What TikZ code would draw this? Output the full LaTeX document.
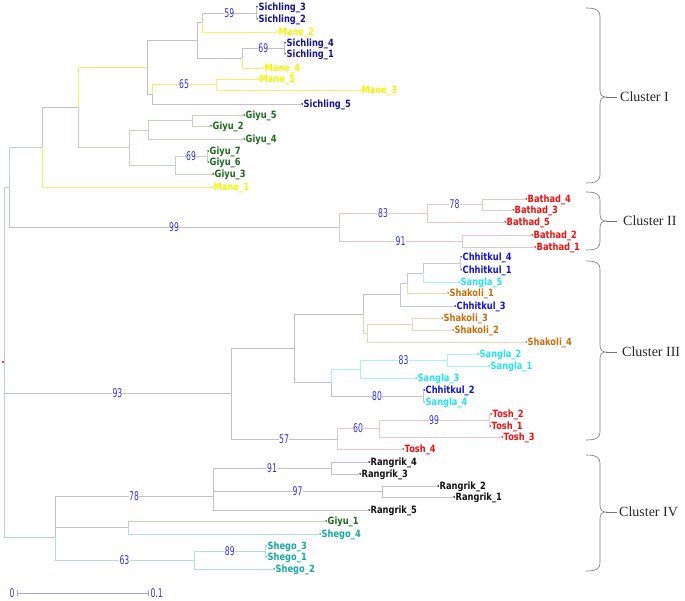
\documentclass[tikz,border=0pt]{standalone}
\usepackage{fontspec}
\newfontfamily\leafft{DejaVu Sans}[FakeStretch=0.83]
\newfontfamily\bootft{DejaVu Sans}[FakeStretch=0.64]
\newfontfamily\clusft{Liberation Serif}
\definecolor{csich}{HTML}{16168C}
\definecolor{cmane}{HTML}{F4F400}
\definecolor{cgiyu}{HTML}{1B6B1B}
\definecolor{cbath}{HTML}{F01010}
\definecolor{cchh}{HTML}{1212E0}
\definecolor{csang}{HTML}{22E4F0}
\definecolor{cshak}{HTML}{C46E0C}
\definecolor{ctosh}{HTML}{EE1111}
\definecolor{crang}{HTML}{111111}
\definecolor{csheg}{HTML}{14A8A0}
\definecolor{bootblue}{HTML}{3030E8}
\definecolor{lgray}{HTML}{C2C2C2}
\definecolor{lyel}{HTML}{F2F266}
\definecolor{lgrn}{HTML}{C0D4C0}
\definecolor{lpink}{HTML}{E8C6CA}
\definecolor{llav}{HTML}{C4C4E4}
\definecolor{lcyan}{HTML}{A8F2F8}
\definecolor{lbeige}{HTML}{E4D6BA}
\definecolor{lteal}{HTML}{B0E0DC}
\definecolor{lroot}{HTML}{B8D4CC}
\definecolor{lsbar}{HTML}{A4A4E0}
\tikzset{
  leaflab/.style={font=\leafft\bfseries\fontsize{10}{12}\selectfont, inner sep=0pt, anchor=base west},
  boot/.style={font=\bootft\fontsize{12}{13}\selectfont, text=bootblue, fill=white, inner sep=0.3pt},
  br/.style={line width=0.8pt},
  clus/.style={font=\clusft\fontsize{14}{15}\selectfont, text=black!85, anchor=west, inner sep=0pt},
  bracestyle/.style={draw=black!55, line width=0.6pt},
}
\newcommand{\tleaf}[5]{%
  \coordinate (#1) at (#2,#3);
  \fill[#4] (#1) circle (1pt);
  \node[leaflab, text=#4] (#1t) at ([shift={(1.5,3.6)}]#1) {#5};
}
\newcommand{\cbrace}[3]{%
  \draw[bracestyle] (586,#1) .. controls (596,#1) and (600,#1+2) .. (600,#1+9) -- (600,#2-7) .. controls (600,#2-2) and (602,#2) .. (606,#2) .. controls (602,#2) and (600,#2+2) .. (600,#2+7) -- (600,#3-9) .. controls (600,#3-2) and (596,#3) .. (586,#3);
  \draw[bracestyle] (606,#2) -- (617,#2);
}
\begin{document}
\begin{tikzpicture}[x=1pt,y=-1pt]
\useasboundingbox (0,0) rectangle (685,601);
% ---------------- leaves
\tleaf{s3}{257}{7}{csich}{Sichling\_3}
\tleaf{s2}{257}{19}{csich}{Sichling\_2}
\tleaf{m2}{277}{32}{cmane}{Mane\_2}
\tleaf{s4}{285}{43}{csich}{Sichling\_4}
\tleaf{s1}{285}{54}{csich}{Sichling\_1}
\tleaf{m4}{263}{68}{cmane}{Mane\_4}
\tleaf{m5}{258}{79}{cmane}{Mane\_5}
\tleaf{m3}{360}{90}{cmane}{Mane\_3}
\tleaf{s5}{302}{104}{csich}{Sichling\_5}
\tleaf{g5}{244}{115}{cgiyu}{Giyu\_5}
\tleaf{g2}{211}{126}{cgiyu}{Giyu\_2}
\tleaf{g4}{244}{139}{cgiyu}{Giyu\_4}
\tleaf{g7}{208}{151}{cgiyu}{Giyu\_7}
\tleaf{g6}{208}{162}{cgiyu}{Giyu\_6}
\tleaf{g3}{213}{174}{cgiyu}{Giyu\_3}
\tleaf{m1}{212}{187}{cmane}{Mane\_1}
\tleaf{b4}{526}{199}{cbath}{Bathad\_4}
\tleaf{b3}{513}{210}{cbath}{Bathad\_3}
\tleaf{b5}{505}{222}{cbath}{Bathad\_5}
\tleaf{b2}{532}{235}{cbath}{Bathad\_2}
\tleaf{b1}{535}{247}{cbath}{Bathad\_1}
\tleaf{c4}{461}{257}{cchh}{Chhitkul\_4}
\tleaf{c1}{461}{270}{cchh}{Chhitkul\_1}
\tleaf{sa5}{459}{282}{csang}{Sangla\_5}
\tleaf{sk1}{448}{293}{cshak}{Shakoli\_1}
\tleaf{c3}{455}{306}{cchh}{Chhitkul\_3}
\tleaf{sk3}{442}{318}{cshak}{Shakoli\_3}
\tleaf{sk2}{453}{330}{cshak}{Shakoli\_2}
\tleaf{sk4}{526}{342}{cshak}{Shakoli\_4}
\tleaf{sa2}{478}{354}{csang}{Sangla\_2}
\tleaf{sa1}{489}{366}{csang}{Sangla\_1}
\tleaf{sa3}{416}{378}{csang}{Sangla\_3}
\tleaf{c2}{424}{390}{cchh}{Chhitkul\_2}
\tleaf{sa4}{424}{402}{csang}{Sangla\_4}
\tleaf{t2}{491}{414}{ctosh}{Tosh\_2}
\tleaf{t1}{490}{426}{ctosh}{Tosh\_1}
\tleaf{t3}{502}{437}{ctosh}{Tosh\_3}
\tleaf{t4}{403}{449}{ctosh}{Tosh\_4}
\tleaf{r4}{369}{462}{crang}{Rangrik\_4}
\tleaf{r3}{360}{474}{crang}{Rangrik\_3}
\tleaf{r2}{438}{486}{crang}{Rangrik\_2}
\tleaf{r1}{454}{497}{crang}{Rangrik\_1}
\tleaf{r5}{369}{510}{crang}{Rangrik\_5}
\tleaf{g1}{326}{521}{cgiyu}{Giyu\_1}
\tleaf{sh4}{320}{534}{csheg}{Shego\_4}
\tleaf{sh3}{266}{546}{csheg}{Shego\_3}
\tleaf{sh1}{266}{557}{csheg}{Shego\_1}
\tleaf{sh2}{274}{569}{csheg}{Shego\_2}
% ---------------- internal nodes
\coordinate (nA) at (256.5,13);
\coordinate (nB) at (202,22.5);
\coordinate (nC) at (284.5,48.5);
\coordinate (nD) at (242,58);
\coordinate (nE) at (197,40);
\coordinate (nF) at (216,84.5);
\coordinate (nG) at (152,94);
\coordinate (nH) at (147,67);
\coordinate (nI) at (192,120.5);
\coordinate (nJ) at (148,130);
\coordinate (nK) at (207,156.5);
\coordinate (nL) at (175,165);
\coordinate (nM) at (129,147.5);
\coordinate (nN) at (78,107);
\coordinate (nO) at (42,147);
\coordinate (nQ) at (482,204.5);
\coordinate (nR) at (427,213);
\coordinate (nS) at (462,241);
\coordinate (nT) at (339,227);
\coordinate (nP) at (9,187);
\coordinate (n1) at (460.5,263.5);
\coordinate (n2) at (423,273);
\coordinate (n3) at (407,283);
\coordinate (n4) at (400,294.5);
\coordinate (n5) at (412,324);
\coordinate (n6) at (367,333);
\coordinate (n7) at (363,314);
\coordinate (n10) at (447,360);
\coordinate (n11) at (360,369);
\coordinate (n12) at (423,396);
\coordinate (n13) at (331,382.5);
\coordinate (n8) at (294,348);
\coordinate (nt21) at (489,420);
\coordinate (nt2) at (379,428.5);
\coordinate (nt3) at (337,439);
\coordinate (nIII) at (231,393.5);
\coordinate (nr43) at (331,468);
\coordinate (nr21) at (382,491.5);
\coordinate (nRR) at (213,496);
\coordinate (nGS) at (128,527.5);
\coordinate (nsh31) at (265.5,551.5);
\coordinate (nSH) at (194,560);
\coordinate (nIV) at (55,537);
\coordinate (root) at (4,362);
% ---------------- branches: cluster I
\draw[br,lgray] (nA) |- (s3);
\draw[br,lgray] (nA) |- (s2);
\draw[br,lgray] (nB) |- (nA) node[boot,pos=0.75] {59};
\draw[br,lyel] (nB) |- (m2);
\draw[br,lgray] (nC) |- (s4);
\draw[br,lgray] (nC) |- (s1);
\draw[br,lgray] (nD) |- (nC) node[boot,pos=0.75] {69};
\draw[br,lyel] (nD) |- (m4);
\draw[br,lgray] (nE) |- (nB);
\draw[br,lgray] (nE) |- (nD);
\draw[br,lyel] (nF) |- (m5);
\draw[br,lyel] (nF) |- (m3);
\draw[br,lyel] (nG) |- (nF) node[boot,pos=0.75] {65};
\draw[br,lgray] (nG) |- (s5);
\draw[br,lgray] (nH) |- (nE);
\draw[br,lgray] (nH) |- (nG);
\draw[br,lgrn] (nI) |- (g5);
\draw[br,lgrn] (nI) |- (g2);
\draw[br,lgrn] (nJ) |- (nI);
\draw[br,lgrn] (nJ) |- (g4);
\draw[br,lgrn] (nK) |- (g7);
\draw[br,lgrn] (nK) |- (g6);
\draw[br,lgrn] (nL) |- (nK) node[boot,pos=0.75] {69};
\draw[br,lgrn] (nL) |- (g3);
\draw[br,lgrn] (nM) |- (nJ);
\draw[br,lgrn] (nM) |- (nL);
\draw[br,lyel] (nN) |- (nH);
\draw[br,lgrn] (nN) |- (nM);
\draw[br,lgray] (nO) |- (nN);
\draw[br,lyel] (nO) |- (m1);
% cluster II
\draw[br,lpink] (nQ) |- (b4);
\draw[br,lpink] (nQ) |- (b3);
\draw[br,lpink] (nR) |- (nQ) node[boot,pos=0.75] {78};
\draw[br,lpink] (nR) |- (b5);
\draw[br,lpink] (nS) |- (b2);
\draw[br,lpink] (nS) |- (b1);
\draw[br,lpink] (nT) |- (nR) node[boot,pos=0.75] {83};
\draw[br,lpink] (nT) |- (nS) node[boot,pos=0.75] {91};
\draw[br,lroot] (nP) |- (nO);
\draw[br,lgray] (nP) |- (nT) node[boot,pos=0.75] {99};
% cluster III
\draw[br,llav] (n1) |- (c4);
\draw[br,llav] (n1) |- (c1);
\draw[br,llav] (n2) |- (n1);
\draw[br,lcyan] (n2) |- (sa5);
\draw[br,llav] (n3) |- (n2);
\draw[br,lbeige] (n3) |- (sk1);
\draw[br,llav] (n4) |- (n3);
\draw[br,llav] (n4) |- (c3);
\draw[br,lbeige] (n5) |- (sk3);
\draw[br,lbeige] (n5) |- (sk2);
\draw[br,lbeige] (n6) |- (n5);
\draw[br,lbeige] (n6) |- (sk4);
\draw[br,lgray] (n7) |- (n4);
\draw[br,lbeige] (n7) |- (n6);
\draw[br,lcyan] (n10) |- (sa2);
\draw[br,lcyan] (n10) |- (sa1);
\draw[br,lcyan] (n11) |- (n10) node[boot,pos=0.75] {83};
\draw[br,lcyan] (n11) |- (sa3);
\draw[br,lgray] (n12) |- (c2);
\draw[br,lgray] (n12) |- (sa4);
\draw[br,lcyan] (n13) |- (n11);
\draw[br,lgray] (n13) |- (n12) node[boot,pos=0.75] {80};
\draw[br,lgray] (n8) |- (n7);
\draw[br,lgray] (n8) |- (n13);
\draw[br,lpink] (nt21) |- (t2);
\draw[br,lpink] (nt21) |- (t1);
\draw[br,lpink] (nt2) |- (nt21) node[boot,pos=0.75] {99};
\draw[br,lpink] (nt2) |- (t3);
\draw[br,lpink] (nt3) |- (nt2) node[boot,pos=0.75] {60};
\draw[br,lpink] (nt3) |- (t4);
\draw[br,lgray] (nIII) |- (n8);
\draw[br,lgray] (nIII) |- (nt3) node[boot,pos=0.75] {57};
% cluster IV
\draw[br,lgray] (nr43) |- (r4);
\draw[br,lgray] (nr43) |- (r3);
\draw[br,lgray] (nr21) |- (r2);
\draw[br,lgray] (nr21) |- (r1);
\draw[br,lgray] (nRR) |- (nr43) node[boot,pos=0.75] {91};
\draw[br,lgray] (nRR) |- (nr21) node[boot,pos=0.75] {97};
\draw[br,lgray] (nRR) |- (r5);
\draw[br,lgrn] (nGS) |- (g1);
\draw[br,lteal] (nGS) |- (sh4);
\draw[br,lteal] (nsh31) |- (sh3);
\draw[br,lteal] (nsh31) |- (sh1);
\draw[br,lteal] (nSH) |- (nsh31) node[boot,pos=0.75] {89};
\draw[br,lteal] (nSH) |- (sh2);
\draw[br,lgray] (nIV) |- (nRR) node[boot,pos=0.75] {78};
\draw[br,lgray] (nIV) |- (nGS);
\draw[br,lteal] (nIV) |- (nSH) node[boot,pos=0.75] {63};
% root
\draw[br,lroot] (root) |- (nP);
\draw[br,lgray] (root) |- (nIII) node[boot,pos=0.75] {93};
\draw[br,lroot] (root) |- (nIV);
\fill[red] (3,362) circle (1.1pt);
% ---------------- scale bar
\coordinate (sb0) at (17,593);
\coordinate (sb1) at (148,593);
\draw[lsbar, line width=0.7pt] (sb0) -- (sb1);
\draw[lsbar, line width=0.7pt] (17,590) -- (17,596);
\draw[lsbar, line width=0.7pt] (148,590) -- (148,596);
\node[boot, fill=none, anchor=east] (sbl0) at (15,593) {0};
\node[boot, fill=none, anchor=west] (sbl1) at (150,593) {0.1};
% ---------------- cluster braces
\cbrace{8}{97}{183}
\cbrace{192}{221}{250}
\cbrace{261}{352}{440}
\cbrace{455}{512}{571}
\node[clus] (cl1) at (620,97) {Cluster I};
\node[clus] (cl2) at (623,221) {Cluster II};
\node[clus] (cl3) at (622,352) {Cluster III};
\node[clus] (cl4) at (619,512) {Cluster IV};
\end{tikzpicture}
\end{document}
